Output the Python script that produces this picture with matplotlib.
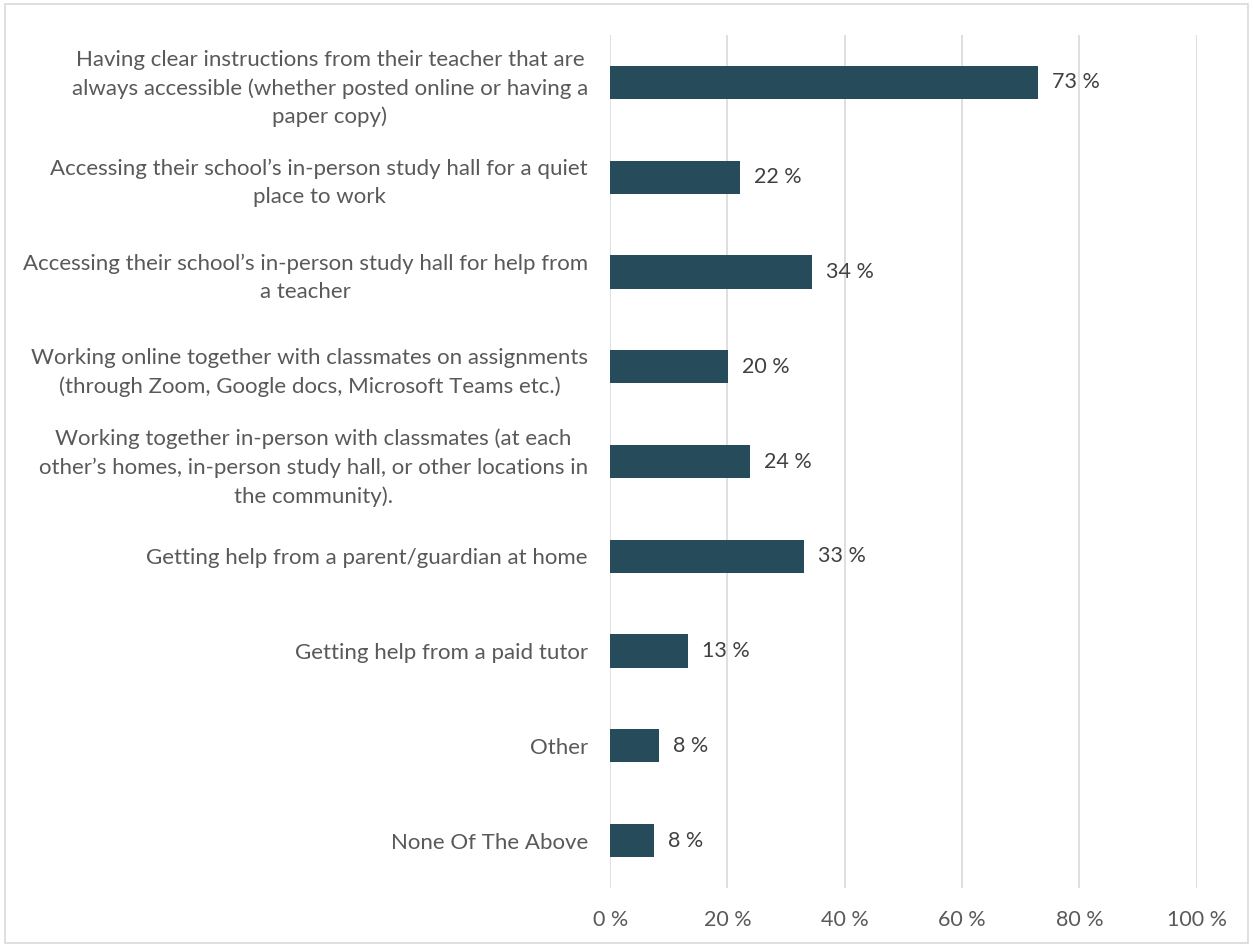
import matplotlib.pyplot as plt
import matplotlib.patches as patches

categories = [
    "Having clear instructions from their teacher that are\nalways accessible (whether posted online or having a\npaper copy)",
    "Accessing their school\u2019s in-person study hall for a quiet\nplace to work",
    "Accessing their school\u2019s in-person study hall for help from\na teacher",
    "Working online together with classmates on assignments\n(through Zoom, Google docs, Microsoft Teams etc.)",
    "Working together in-person with classmates (at each\nother\u2019s homes, in-person study hall, or other locations in\nthe community).",
    "Getting help from a parent/guardian at home",
    "Getting help from a paid tutor",
    "Other",
    "None Of The Above",
]
values = [72.9, 22.1, 34.4, 20.1, 23.9, 33.0, 13.3, 8.3, 7.5]
xticks = [0, 20, 40, 60, 80, 100]

bar_color = '#264b5a'
text_color = '#595959'
grid_color = '#d9d9d9'

plt.rcParams['font.family'] = ['Lato', 'DejaVu Sans']

fig = plt.figure(figsize=(12.53, 9.47), dpi=100)
ax = fig.add_axes([0.487, 0.0623, 0.468, 0.9007])

y = list(range(len(categories)))
ax.barh(y, values, height=0.35, color=bar_color, zorder=3)
for yi, v in zip(y, values):
    ax.text(v + 2.4, yi, f'{round(v)} %', va='center', ha='left',
            fontsize=15.5, color='#404040', zorder=4)

ax.set_xlim(0, 100)
ax.set_ylim(len(categories) - 0.5, -0.5)
ax.set_xticks(xticks)
ax.set_xticklabels([f'{t} %' for t in xticks], fontsize=15.5, color=text_color)
ax.set_yticks(y)
ax.set_yticklabels(categories, fontsize=16, color=text_color, ha='right',
                   multialignment='center', linespacing=1.5)
ax.tick_params(axis='y', length=0, pad=16)
ax.tick_params(axis='x', length=0, pad=16)
ax.xaxis.grid(True, color=grid_color, linewidth=1.2, zorder=0)
for s in ax.spines.values():
    s.set_visible(False)

fig.patches.append(patches.Rectangle((0.004, 0.004), 0.992, 0.992,
                                     transform=fig.transFigure, fill=False,
                                     edgecolor=grid_color, linewidth=1.2))

plt.savefig('out.png', dpi=100)
